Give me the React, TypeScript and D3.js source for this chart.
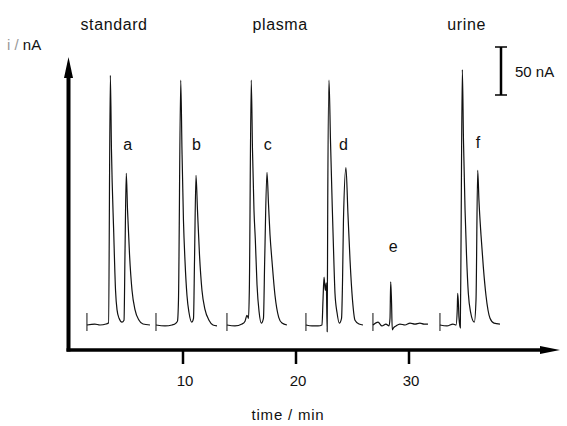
import React from "react";
import * as d3 from "d3";

// ---- data (time in min, current in nA relative to each baseline) ----
const traceA: [number, number][] = [
  [1.5, 0], [2.2, 1], [2.65, 0], [3.19, 1], [3.41, 2], [3.57, 260], [3.67, 182], [3.87, 96],
  [4.03, 36], [4.16, 16], [4.34, 7], [4.6, 3], [4.78, 5], [4.87, 78], [4.98, 158], [5.09, 120],
  [5.27, 73], [5.49, 36], [5.75, 16], [6.11, 5], [6.46, 1], [7.08, 0],
];
const traceB: [number, number][] = [
  [7.61, 0], [8.41, -1], [9.03, 0], [9.38, 2], [9.51, 4], [9.6, 26], [9.8, 255], [9.91, 182],
  [10.04, 109], [10.18, 66], [10.35, 31], [10.53, 13], [10.77, 3], [10.93, 7], [11.02, 68],
  [11.15, 156], [11.28, 120], [11.46, 73], [11.68, 36], [11.95, 16], [12.3, 5], [12.65, 0], [13.01, -1],
];
const traceC: [number, number][] = [
  [13.89, 0], [14.6, -1], [15.22, 1], [15.49, 4], [15.66, 10], [15.8, 7], [15.87, 36], [16.04, 255],
  [16.15, 182], [16.28, 120], [16.4, 89], [16.55, 42], [16.73, 14], [16.93, 2], [17.12, 7], [17.23, 68],
  [17.43, 159], [17.57, 125], [17.7, 94], [17.88, 66], [18.14, 31], [18.47, 8], [18.76, 2], [19.2, 0],
];
const traceD: [number, number][] = [
  [20.88, 0], [21.42, -1], [21.95, -1], [22.3, 0], [22.39, 26], [22.48, 50], [22.59, 36], [22.68, 44],
  [22.76, -7], [22.81, 130], [22.92, 255], [23.05, 193], [23.21, 123], [23.36, 63], [23.45, 33],
  [23.63, 13], [23.83, 2], [24.03, 7], [24.12, 47], [24.2, 109], [24.42, 164], [24.6, 115], [24.78, 68],
  [25.0, 26], [25.22, 5], [25.58, 1], [25.93, 0],
];
const traceE: [number, number][] = [
  [26.81, 0], [27.26, 3], [27.61, -1], [27.96, 1], [28.23, -1], [28.32, 7], [28.38, 45], [28.45, 26],
  [28.52, -5], [28.63, -3], [28.85, -1], [29.2, 1], [29.65, 0], [30.09, 2], [30.53, 1], [30.97, 2],
  [31.33, 1], [31.68, 1],
];
const traceF: [number, number][] = [
  [32.74, 0], [33.36, -1], [33.89, 1], [34.16, 0], [34.27, 16], [34.31, 33], [34.38, 21], [34.42, 8],
  [34.54, -3], [34.6, 78], [34.72, 266], [34.82, 193], [34.96, 120], [35.09, 73], [35.25, 33],
  [35.44, 14], [35.78, 3], [35.93, 26], [36.08, 161], [36.19, 130], [36.37, 94], [36.58, 60],
  [36.81, 31], [37.17, 7], [37.52, 2], [38.05, 1],
];
const traces = [traceA, traceB, traceC, traceD, traceE, traceF];

const peakLabels = ["a", "b", "c", "d", "e", "f"];
const peakLabelTimes = [5.1, 11.2, 17.5, 24.2, 28.6, 36.1];
const peakLabelCurrents = [182, 182, 182, 182, 76, 184];

const sampleNames = ["standard", "plasma", "urine"];
const sampleNameTimes = [3.9, 18.6, 35.1];

const xTicks = [10, 20, 30];
const scaleBarValue = 50; // nA
const xTitle = "time / min";
const yTitle = "nA";
const yTitlePrefix = "i / ";

export default function App() {
  const W = 567;
  const H = 426;
  const x = d3.scaleLinear().domain([0, 30]).range([70, 409]);
  const y = d3.scaleLinear().domain([0, 250]).range([325, 85]);

  const line = d3
    .line<[number, number]>()
    .x((d) => x(d[0]))
    .y((d) => y(d[1]))
    .curve(d3.curveMonotoneX);

  const axisX = 68.5;
  const axisY = 350;
  const font = "'Liberation Sans', Arial, Helvetica, sans-serif";

  const barX = 501;
  const barTop = 47;
  const barBottom = barTop + (y(0) - y(scaleBarValue));

  return (
    <svg
      width={W}
      height={H}
      style={{ position: "absolute", left: 0, top: 0, background: "#fff" }}
      fontFamily={font}
    >
      <rect x={0} y={0} width={W} height={H} fill="#fff" />
      {/* traces */}
      {traces.map((t, i) => (
        <g key={i}>
          <path d={line(t) || ""} fill="none" stroke="#111" strokeWidth={1.2} strokeLinejoin="round" />
          <line x1={x(t[0][0])} x2={x(t[0][0])} y1={y(0) - 12} y2={y(0) + 6} stroke="#111" strokeWidth={1} />
        </g>
      ))}
      {/* peak labels */}
      {peakLabels.map((l, i) => (
        <text
          key={l}
          x={x(peakLabelTimes[i])}
          y={y(peakLabelCurrents[i])}
          textAnchor="middle"
          fontSize={16}
          fill="#111"
        >
          {l}
        </text>
      ))}
      {/* sample names */}
      {sampleNames.map((s, i) => (
        <text
          key={s}
          x={x(sampleNameTimes[i])}
          y={30}
          textAnchor="middle"
          fontSize={16}
          letterSpacing={0.6}
          fill="#111"
        >
          {s}
        </text>
      ))}
      {/* y axis */}
      <line x1={axisX} x2={axisX} y1={axisY + 1.5} y2={74} stroke="#000" strokeWidth={4} />
      <path d={`M${axisX},57 L${axisX - 4.5},78 L${axisX + 4.5},78 Z`} fill="#000" />
      {/* x axis */}
      <line x1={axisX - 2} x2={543} y1={axisY} y2={axisY} stroke="#000" strokeWidth={3.5} />
      <path d={`M560,${axisY} L540,${axisY - 4} L540,${axisY + 4} Z`} fill="#000" />
      {xTicks.map((t) => (
        <g key={t}>
          <line x1={x(t)} x2={x(t)} y1={axisY} y2={364} stroke="#000" strokeWidth={2.5} />
          <text x={x(t) + 2} y={386} textAnchor="middle" fontSize={15} fill="#111">
            {t}
          </text>
        </g>
      ))}
      <text x={288} y={420} textAnchor="middle" fontSize={15} letterSpacing={0.8} fill="#111">
        {xTitle}
      </text>
      <text x={7} y={50} fontSize={15} fill="#111">
        <tspan fill="#999">{yTitlePrefix}</tspan>
        {yTitle}
      </text>
      {/* scale bar */}
      <line x1={barX} x2={barX} y1={barTop} y2={barBottom} stroke="#000" strokeWidth={2.5} />
      <line x1={barX - 6} x2={barX + 6} y1={barTop} y2={barTop} stroke="#000" strokeWidth={1.5} />
      <line x1={barX - 6} x2={barX + 6} y1={barBottom} y2={barBottom} stroke="#000" strokeWidth={1.5} />
      <text x={515} y={77} fontSize={15} fill="#111">
        {scaleBarValue} nA
      </text>
    </svg>
  );
}
